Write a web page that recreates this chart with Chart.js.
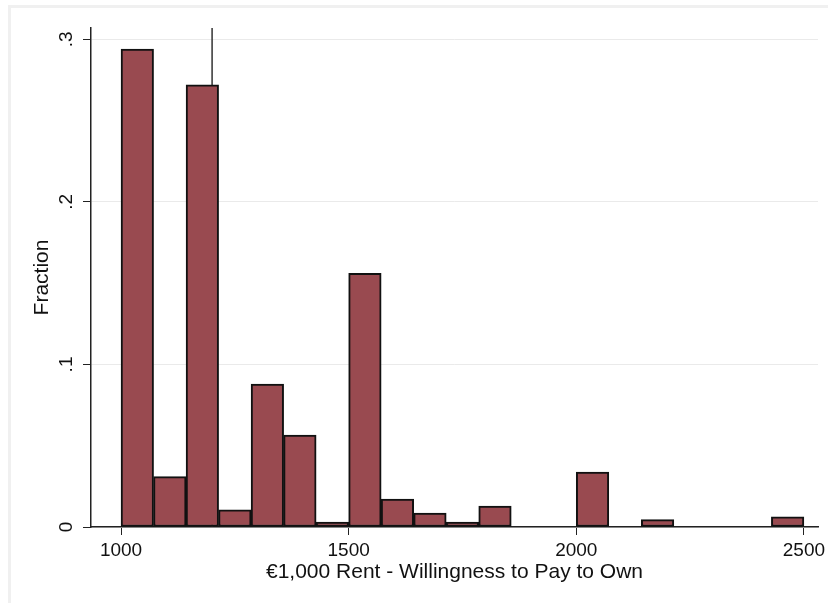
<!DOCTYPE html>
<html>
<head>
<meta charset="utf-8">
<script src="https://cdn.jsdelivr.net/npm/chart.js@4"></script>
<style>
  body { margin: 0; background: #fff; }
  #wrap { position: relative; width: 828px; height: 603px; }
  #frame { position: absolute; left: 8px; top: 5px; right: 0; bottom: 0;
           border-top: 3px solid #f0f0f0; border-left: 3px solid #f0f0f0; }
  canvas { position: absolute; left: 0; top: 0; }
</style>
</head>
<body>
<div id="wrap">
  <div id="frame"></div>
  <canvas id="chart-1" width="828" height="603"></canvas>
</div>
<script>
// histogram: 21 bins of width 1500/21 starting at 1000
const binStart = 1000;
const binWidth = 1500 / 21;
const fractions = [0.294, 0.031, 0.272, 0.0105, 0.088, 0.0565, 0.003, 0.156, 0.0172, 0.0085, 0.003,
                   0.0128, 0, 0, 0.0338, 0, 0.0045, 0, 0, 0, 0.0063];
const refLine = 1200;
const xTicks = [1000, 1500, 2000, 2500];
const yTicks = [0, 0.1, 0.2, 0.3];

const tickFont = { family: '"Liberation Sans", Arial, sans-serif', size: 19 };
const titleFont = { family: '"Liberation Sans", Arial, sans-serif', size: 21 };

const ctx = document.getElementById('chart-1');

new Chart(ctx, {
  type: 'bar',
  data: {
    datasets: [{
      type: 'bar',
      data: fractions.map((f, i) => ({ x: binStart + binWidth * (i + 0.5), y: f })),
      backgroundColor: '#994a50',
      borderColor: '#111',
      borderWidth: 2,
      borderSkipped: false,
      barPercentage: 1,
      categoryPercentage: 1,
      order: 1
    }, {
      type: 'line',
      data: [{ x: refLine, y: 0 }, { x: refLine, y: 0.307 }],
      borderColor: '#333',
      borderWidth: 1.5,
      pointRadius: 0,
      order: 2
    }]
  },
  options: {
    responsive: false,
    animation: false,
    layout: { padding: { top: 28, right: 10, left: 0, bottom: 0 } },
    plugins: { legend: { display: false }, tooltip: { enabled: false } },
    scales: {
      x: {
        type: 'linear',
        min: 934,
        max: 2531,
        offset: false,
        afterBuildTicks: s => { s.ticks = xTicks.map(v => ({ value: v })); },
        afterFit: s => { s.height = 76; s.paddingLeft = 0; s.paddingRight = 0; },
        grid: { drawOnChartArea: false, tickLength: 8, tickColor: '#222', offset: false },
        border: { color: '#222', width: 1.5 },
        ticks: { font: tickFont, color: '#111', padding: 4, maxRotation: 0, callback: v => String(v) },
        title: { display: true, text: '€1,000 Rent - Willingness to Pay to Own', font: titleFont, color: '#111',
                 padding: { top: 0, bottom: 18 } }
      },
      y: {
        min: 0,
        max: 0.307,
        afterBuildTicks: s => { s.ticks = yTicks.map(v => ({ value: v })); },
        afterFit: s => { s.width = 91; s.paddingTop = 0; s.paddingBottom = 0; },
        grid: { color: '#eaeaea', lineWidth: 1, tickLength: 8, tickColor: '#222' },
        border: { color: '#222', width: 1.5 },
        ticks: {
          font: tickFont, color: '#111', padding: 8, minRotation: 90, maxRotation: 90, crossAlign: 'center',
          callback: v => v === 0 ? '0' : v.toFixed(1).replace(/^0/, '')
        },
        title: { display: true, text: 'Fraction', font: titleFont, color: '#111', padding: { top: 30, bottom: 0 } }
      }
    }
  }
});
</script>
</body>
</html>
